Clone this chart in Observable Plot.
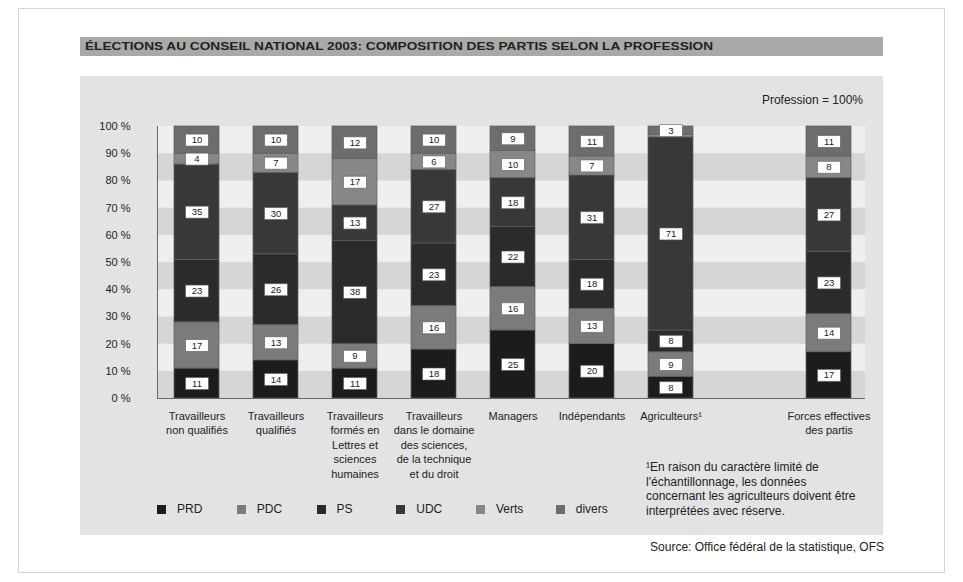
<!DOCTYPE html>
<html><head><meta charset="utf-8">
<script src="https://cdn.jsdelivr.net/npm/d3@7"></script>
<script src="https://cdn.jsdelivr.net/npm/@observablehq/plot@0.6"></script>
<style>
html,body{margin:0;padding:0;background:#fff;}
#root{position:relative;width:963px;height:582px;overflow:hidden;font-family:"Liberation Sans",Arial,sans-serif;color:#222;}
.abs{position:absolute;}
#border{left:18px;top:8px;width:927px;height:565px;border:1px solid #d6d6d6;box-sizing:border-box;}
#title{left:80px;top:37px;width:803px;height:19px;background:#a9a9a9;}
#titleText{position:absolute;left:5px;top:0;line-height:19px;font-weight:bold;font-size:11.5px;white-space:nowrap;transform-origin:0 50%;color:#222;}
#panel{left:80px;top:76px;width:803px;height:459px;background:#e3e3e3;}
#chart{left:80px;top:76px;}
#prof{right:100px;top:93px;font-size:12px;line-height:14px;white-space:nowrap;}
#foot{left:646px;top:460px;font-size:12px;line-height:14.7px;white-space:nowrap;}
#source{right:79px;top:540px;font-size:12px;line-height:14px;white-space:nowrap;}
.lg{position:absolute;font-size:12px;line-height:14px;white-space:nowrap;}
.sw{position:absolute;width:9px;height:9px;}
</style>
</head><body>
<div id="root">
  <div id="border" class="abs"></div>
  <div id="title" class="abs"><span id="titleText">ÉLECTIONS AU CONSEIL NATIONAL 2003: COMPOSITION DES PARTIS SELON LA PROFESSION</span></div>
  <div id="panel" class="abs"></div>
  <div id="chart" class="abs"></div>
  <div id="prof" class="abs">Profession = 100%</div>
  <div id="legend" class="abs" style="left:0;top:0;"></div>
  <div id="foot" class="abs">¹En raison du caractère limité de<br>l'échantillonnage, les données<br>concernant les agriculteurs doivent être<br>interprétées avec réserve.</div>
  <div id="source" class="abs">Source: Office fédéral de la statistique, OFS</div>
</div>
<script>
const professions = [
  "Travailleurs non qualifiés",
  "Travailleurs qualifiés",
  "Travailleurs formés en Lettres et sciences humaines",
  "Travailleurs dans le domaine des sciences, de la technique et du droit",
  "Managers",
  "Indépendants",
  "Agriculteurs",
  "Forces effectives des partis"
];
const professionLabels = [
  "Travailleurs\nnon qualifiés",
  "Travailleurs\nqualifiés",
  "Travailleurs\nformés en\nLettres et\nsciences\nhumaines",
  "Travailleurs\ndans le domaine\ndes sciences,\nde la technique\net du droit",
  "Managers",
  "Indépendants",
  "Agriculteurs¹",
  "Forces effectives\ndes partis"
];
const parties = ["PRD", "PDC", "PS", "UDC", "Verts", "divers"];
const PRD    = [11, 14, 11, 18, 25, 20,  8, 17];
const PDC    = [17, 13,  9, 16, 16, 13,  9, 14];
const PS     = [23, 26, 38, 23, 22, 18,  8, 23];
const UDC    = [35, 30, 13, 27, 18, 31, 71, 27];
const Verts  = [ 4,  7, 17,  6, 10,  7,  1,  8];
const divers = [10, 10, 12, 10,  9, 11,  3, 11];
const partyColors = ["#1c1c1c", "#7b7b7b", "#2b2b2b", "#383838", "#878787", "#6d6d6d"];
const yTicks = [0, 10, 20, 30, 40, 50, 60, 70, 80, 90, 100];

const series = [PRD, PDC, PS, UDC, Verts, divers];
const rows = professions.flatMap((p, i) => parties.map((party, j) => ({profession: p, party, value: series[j][i]})));
const xDomain = [...professions.slice(0, 7), " ", professions[7]];
const bands = yTicks.slice(0, -1).map((t, i) => ({y1: t, y2: yTicks[i + 1], dark: i % 2 === 0}));
const boxSymbol = {draw(ctx) { ctx.moveTo(-11.5, -6); ctx.lineTo(11.5, -6); ctx.lineTo(11.5, 6); ctx.lineTo(-11.5, 6); ctx.closePath(); }};
const font = "'Liberation Sans', Arial, sans-serif";

const chart = Plot.plot({
  width: 803, height: 430,
  marginTop: 50, marginBottom: 108, marginLeft: 77, marginRight: 18,
  style: {background: "transparent", fontFamily: font, fontSize: "10px", color: "#222"},
  x: {type: "band", domain: xDomain, range: [60, 805], padding: 0.43, axis: null},
  y: {domain: [0, 100], axis: null},
  color: {domain: parties, range: partyColors},
  marks: [
    Plot.rectY(bands, {y1: "y1", y2: "y2", fill: d => d.dark ? "#d6d6d6" : "#efefef"}),
    Plot.barY(rows, {x: "profession", y: "value", fill: "party", order: parties, stroke: "#5e5e5e", strokeWidth: 0.7}),
    Plot.dot(rows, Plot.stackY({x: "profession", y: "value", z: "party", order: parties, symbol: boxSymbol, r: 5, fill: "white", stroke: "#555", strokeWidth: 0.6, fillOpacity: d => d.value >= 2 ? 1 : 0, strokeOpacity: d => d.value >= 2 ? 1 : 0})),
    Plot.text(rows, Plot.stackY({x: "profession", y: "value", z: "party", order: parties, text: d => d.value >= 2 ? String(d.value) : "", fontSize: 9.5, fill: "#222"})),
    Plot.axisY({ticks: yTicks, tickFormat: d => d + " %", tickSize: 0, tickPadding: 27, fontSize: 11, fill: "#222"}),
    Plot.ruleY([0], {stroke: "#666", strokeWidth: 1}),
    Plot.frame({anchor: "left", stroke: "#666", strokeWidth: 1}),
    Plot.text(professions, {x: d => d, y: 0, text: (d, i) => professionLabels[i], lineAnchor: "top", dy: 11, fontSize: 11, lineHeight: 1.32, fill: "#222"})
  ]
});
document.getElementById("chart").appendChild(chart);

// legend
const lg = document.getElementById("legend");
parties.forEach((p, i) => {
  const x = 157 + 79.75 * i;
  const sw = document.createElement("div");
  sw.className = "sw";
  sw.style.left = x + "px"; sw.style.top = "505px"; sw.style.background = partyColors[i];
  lg.appendChild(sw);
  const t = document.createElement("div");
  t.className = "lg";
  t.style.left = (x + 20) + "px"; t.style.top = "502px";
  t.textContent = p;
  lg.appendChild(t);
});

// fit title width
const tt = document.getElementById("titleText");
const w = tt.getBoundingClientRect().width;
tt.style.transform = `scaleX(${628 / w})`;
</script>
</body></html>
